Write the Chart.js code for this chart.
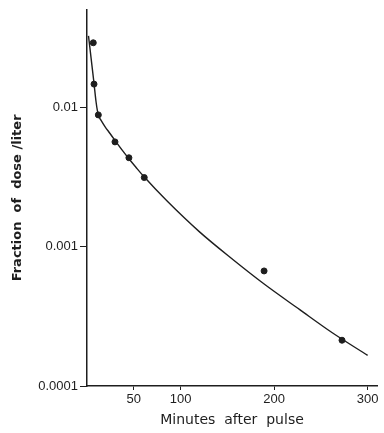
<!DOCTYPE html>
<html>
<head>
<meta charset="utf-8">
<script src="https://cdn.jsdelivr.net/npm/chart.js@4"></script>
<style>
  body { margin: 0; background: #fff; }
  #wrap { width: 384px; height: 433px; }
</style>
</head>
<body>
<div id="wrap"><canvas id="pulseChart"></canvas></div>
<script>
// measured points (minutes, fraction of dose/liter)
const pointMinutes = [6.7, 7.5, 12.1, 29.9, 44.8, 61.2, 189.3, 272.6];
const pointFraction = [0.0290, 0.01465, 0.00881, 0.00564, 0.00434, 0.00313, 0.000669, 0.000213];

// fitted curve
const curveMinutes = [1.6, 3.2, 5.3, 7.5, 9.6, 11.2, 12.8, 14.9, 19.2, 24.6, 29.9, 37.4, 44.8, 52.3, 60.8, 85.1, 120.6, 155.9, 189, 227.4, 262.6, 300];
const curveFraction = [0.0325, 0.0263, 0.0199, 0.01482, 0.01104, 0.00937, 0.00856, 0.00808, 0.00727, 0.00648, 0.00578, 0.00494, 0.00427, 0.00371, 0.00318, 0.00214, 0.00127, 0.000808, 0.000541, 0.000353, 0.000240, 0.000166];

const xTicks = [50, 100, 200, 300];
const yTicks = [0.0001, 0.001, 0.01];
const yTickLabels = ['0.0001', '0.001', '0.01'];

const ink = '#1e1e1e';

document.addEventListener('DOMContentLoaded', () => {
    const ctx = document.getElementById('pulseChart').getContext('2d');
    new Chart(ctx, {
        type: 'scatter',
        data: {
            datasets: [
                {
                    label: 'fit',
                    type: 'line',
                    data: curveMinutes.map((m, i) => ({ x: m, y: curveFraction[i] })),
                    borderColor: ink,
                    borderWidth: 1.4,
                    pointRadius: 0,
                    cubicInterpolationMode: 'monotone',
                    fill: false
                },
                {
                    label: 'measured',
                    data: pointMinutes.map((m, i) => ({ x: m, y: pointFraction[i] })),
                    backgroundColor: ink,
                    borderColor: ink,
                    pointRadius: 3
                }
            ]
        },
        options: {
            responsive: true,
            maintainAspectRatio: false,
            animation: false,
            layout: { padding: { top: 8, right: 7, left: 0, bottom: 0 } },
            plugins: {
                legend: { display: false },
                tooltip: { enabled: false }
            },
            scales: {
                x: {
                    type: 'linear',
                    min: 0,
                    max: 310,
                    afterBuildTicks: (scale) => {
                        scale.ticks = xTicks.map(v => ({ value: v }));
                    },
                    afterFit: (scale) => { scale.height = 47; },
                    border: { color: ink, width: 1.5 },
                    grid: { drawOnChartArea: false, color: ink, tickLength: 4 },
                    ticks: {
                        color: ink,
                        padding: 2,
                        maxRotation: 0,
                        font: { family: 'Liberation Sans', size: 13 }
                    },
                    title: {
                        display: true,
                        text: 'Minutes  after  pulse',
                        color: ink,
                        padding: { top: 0, bottom: 4 },
                        font: { family: 'DejaVu Sans', size: 14 }
                    }
                },
                y: {
                    type: 'logarithmic',
                    min: 0.0001,
                    max: 0.05,
                    afterBuildTicks: (scale) => {
                        scale.ticks = yTicks.map(v => ({ value: v }));
                    },
                    afterFit: (scale) => { scale.width = 87; },
                    border: { color: ink, width: 1.5 },
                    grid: { drawOnChartArea: false, color: ink, tickLength: 7 },
                    ticks: {
                        color: ink,
                        padding: 2,
                        font: { family: 'Liberation Sans', size: 13 },
                        callback: function(value) {
                            const i = yTicks.indexOf(value);
                            return i >= 0 ? yTickLabels[i] : '';
                        }
                    },
                    title: {
                        display: true,
                        text: 'Fraction  of  dose /liter',
                        color: ink,
                        padding: { top: 10, bottom: 0 },
                        font: { family: 'DejaVu Sans', size: 13, weight: 'bold' }
                    }
                }
            }
        }
    });
});
</script>
</body>
</html>
